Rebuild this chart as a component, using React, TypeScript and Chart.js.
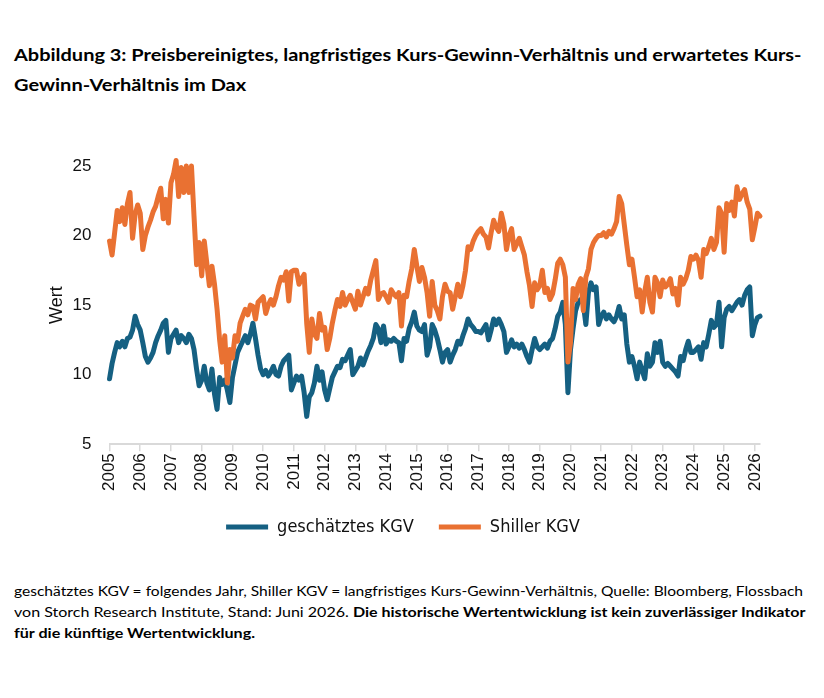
import React, { useEffect, useLayoutEffect, useRef } from "react";
import { Chart, registerables } from "chart.js";

Chart.register(...registerables);

// Years shown on the x axis; one value per month from Jan 2005 to Mar 2026
const years: number[] = [
  2005, 2006, 2007, 2008, 2009, 2010, 2011, 2012, 2013, 2014, 2015,
  2016, 2017, 2018, 2019, 2020, 2021, 2022, 2023, 2024, 2025, 2026,
];
const lastYearMonths = 3;

const months: string[] = [];
years.forEach((y) => {
  const n = y === 2026 ? lastYearMonths : 12;
  for (let m = 1; m <= n; m++) months.push(`${y}-${String(m).padStart(2, "0")}`);
});

// Geschätztes KGV (folgendes Jahr), monthly
const geschaetztesKgv: number[] = [
  9.7, 10.8, 11.6, 12.3, 12.0, 12.4, 12.0, 12.6, 12.7, 13.2, 14.2, 13.6,
  13.2, 12.3, 11.3, 10.9, 11.2, 11.6, 12.3, 12.8, 13.2, 13.7, 13.9, 11.6,
  12.6, 12.9, 13.2, 12.3, 12.8, 12.6, 12.3, 12.9, 12.6, 11.8, 10.4, 9.2,
  9.6, 10.6, 9.4, 8.9, 10.4, 8.6, 7.5, 9.8, 9.3, 9.6, 8.9, 8.0,
  9.8, 10.7, 11.6, 12.0, 12.4, 12.8, 12.3, 12.9, 13.7, 12.6, 11.4, 10.4,
  10.0, 10.3, 9.9, 10.2, 10.6, 10.0, 9.9, 10.6, 11.0, 11.2, 11.4, 8.9,
  9.4, 9.9, 9.6, 9.9, 8.7, 7.0, 8.4, 8.7, 9.4, 10.6, 9.6, 10.2,
  8.9, 8.2, 9.0, 9.8, 10.2, 10.6, 10.5, 11.1, 11.0, 11.4, 11.8, 10.0,
  10.3, 10.6, 11.2, 10.7, 11.2, 11.7, 12.1, 12.6, 13.6, 13.3, 12.3, 13.5,
  12.2, 12.5, 12.4, 12.6, 12.4, 12.3, 11.0, 12.6, 12.4, 13.3, 13.8, 14.5,
  13.5, 13.2, 13.1, 13.6, 11.4, 12.0, 13.6, 13.2, 12.6, 11.8, 10.9, 11.6,
  11.8, 10.9, 11.4, 11.8, 12.4, 12.2, 12.8, 13.3, 14.0, 13.6, 13.4, 13.1,
  13.1, 13.0, 13.3, 13.6, 12.5, 13.2, 14.0, 13.6, 14.0, 13.6, 13.1, 11.6,
  12.0, 12.5, 12.0, 12.2, 11.9, 12.2, 11.8, 11.3, 10.9, 11.8, 12.6, 12.0,
  11.8, 12.0, 12.2, 11.9, 12.4, 12.6, 13.3, 14.2, 14.5, 15.2, 13.6, 8.7,
  11.8, 13.3, 14.6, 15.2, 15.4, 15.1, 13.6, 15.9, 16.6, 16.1, 16.3, 13.6,
  14.2, 14.5, 14.0, 14.3, 14.0, 13.8, 14.2, 14.9, 14.0, 14.3, 12.2, 10.9,
  11.3, 10.6, 9.7, 10.9, 10.3, 9.7, 11.5, 10.6, 10.9, 12.3, 11.6, 12.4,
  10.9, 10.6, 10.8, 10.6, 10.4, 10.2, 9.9, 11.3, 11.0, 11.8, 12.4, 11.6,
  11.6, 11.8, 12.0, 11.1, 12.3, 12.0, 12.9, 13.9, 13.4, 13.6, 15.2, 12.0,
  14.1, 14.7, 14.9, 14.6, 14.9, 15.2, 15.4, 15.0, 15.7, 16.1, 16.3, 12.8,
  13.6, 14.1, 14.2,
];

// Shiller KGV (langfristiges, preisbereinigtes KGV), monthly
const shillerKgv: number[] = [
  19.6, 18.6, 20.2, 21.8, 21.0, 22.0, 20.8, 22.3, 23.1, 19.8, 21.5, 22.2,
  21.6, 19.0, 20.0, 20.6, 21.1, 21.7, 22.1, 22.8, 23.4, 21.2, 22.6, 20.9,
  23.8, 24.4, 25.4, 22.8, 24.9, 23.1, 25.0, 23.1, 25.0, 21.4, 17.9, 19.5,
  17.1, 19.6, 18.0, 16.4, 17.8, 16.5, 14.7, 12.5, 10.9, 12.8, 9.4, 11.8,
  11.2, 12.8, 12.4, 13.7, 14.2, 14.7, 14.3, 15.0, 14.9, 14.0, 15.2, 15.4,
  15.6, 14.4, 15.0, 15.4, 15.0, 15.6, 16.4, 17.0, 16.8, 17.4, 15.3, 17.4,
  17.5, 17.5, 16.5, 16.9, 17.2, 13.7, 11.6, 14.0, 12.9, 12.6, 14.4, 13.2,
  13.4, 11.8, 12.6, 13.7, 14.6, 15.4, 14.9, 15.9, 15.0, 15.4, 15.7, 15.2,
  14.7, 16.0, 15.0, 15.6, 16.2, 15.8, 16.8, 17.5, 18.2, 15.4, 15.8, 15.9,
  15.6, 15.2, 16.1, 15.8, 15.6, 15.9, 13.5, 15.7, 15.6, 16.7, 17.6, 19.0,
  17.8, 16.7, 17.7, 17.0, 15.9, 14.2, 16.7, 15.0, 14.6, 14.0, 15.6, 16.5,
  16.0, 15.9, 14.7, 15.6, 16.5, 15.6, 16.4, 17.5, 19.2, 19.0, 19.6, 20.0,
  20.3, 20.5, 20.1, 19.9, 19.1, 20.2, 21.1, 20.6, 20.3, 21.6, 20.8, 19.0,
  20.0, 20.5, 19.0, 19.4, 19.8, 19.2, 18.6, 17.4, 16.4, 14.9, 16.6, 16.1,
  16.4, 17.5, 15.9, 16.2, 15.4, 15.8, 16.8, 18.0, 18.3, 17.9, 17.0, 10.9,
  12.3, 16.2, 15.4, 16.5, 16.9, 14.6, 17.0, 17.6, 19.0, 19.5, 19.8, 20.0,
  20.0, 20.2, 19.9, 20.3, 20.1, 20.5, 21.0, 22.8, 22.3, 20.8, 19.3, 17.9,
  18.3, 17.0, 15.6, 16.1, 14.5, 16.0, 17.0, 15.2, 14.5, 17.0, 16.6, 15.6,
  16.8, 16.3, 16.5, 16.9, 15.8, 16.2, 15.0, 17.0, 16.5, 16.9, 17.5, 18.5,
  18.3, 18.6, 18.2, 17.0, 19.0, 18.7, 19.2, 19.8, 19.0, 19.5, 22.0, 21.6,
  18.8, 22.3, 21.8, 22.4, 21.4, 23.5, 22.6, 23.0, 23.3, 22.4, 21.9, 19.7,
  20.6, 21.6, 21.4,
];

const yTicks = { min: 5, max: 25, step: 5 };

const BLUE = "#156082";
const ORANGE = "#E97132";
const AXIS_FONT = "'Liberation Sans', Arial, sans-serif";
const LEGEND_FONT = "'Liberation Sans Narrow', 'DejaVu Sans Condensed', 'Liberation Sans', sans-serif";
const TEXT_FONT = "Lato, 'Open Sans', sans-serif";

// A single line of text squeezed/stretched horizontally to a fixed width
function FitLine(props: {
  top: number;
  width: number;
  size: number;
  children: React.ReactNode;
}) {
  const ref = useRef<HTMLDivElement>(null);
  useLayoutEffect(() => {
    const fit = () => {
      const el = ref.current;
      if (!el) return;
      el.style.transform = "none";
      const w = el.offsetWidth;
      if (w > 0) el.style.transform = `scaleX(${props.width / w})`;
    };
    fit();
    if ((document as any).fonts?.ready) (document as any).fonts.ready.then(fit);
  }, [props.width]);
  return (
    <div
      ref={ref}
      style={{
        position: "absolute",
        left: 14,
        top: props.top,
        whiteSpace: "nowrap",
        transformOrigin: "0 0",
        fontFamily: TEXT_FONT,
        fontSize: props.size,
        lineHeight: "22px",
        color: "#000",
      }}
    >
      {props.children}
    </div>
  );
}

function KgvChart() {
  const canvasRef = useRef<HTMLCanvasElement>(null);

  useEffect(() => {
    const canvas = canvasRef.current;
    if (!canvas) return;
    const chart = new Chart(canvas, {
      type: "line",
      data: {
        labels: months,
        datasets: [
          {
            label: "geschätztes KGV",
            data: geschaetztesKgv,
            borderColor: BLUE,
            backgroundColor: BLUE,
            borderWidth: 5,
            pointRadius: 0,
            pointStyle: "line",
            borderCapStyle: "round",
            borderJoinStyle: "round",
            tension: 0,
            clip: false,
            order: 2,
          },
          {
            label: "Shiller KGV",
            data: shillerKgv,
            borderColor: ORANGE,
            backgroundColor: ORANGE,
            borderWidth: 5,
            pointRadius: 0,
            pointStyle: "line",
            borderCapStyle: "round",
            borderJoinStyle: "round",
            tension: 0,
            clip: false,
            order: 1,
          },
        ],
      },
      options: {
        animation: false,
        responsive: false,
        devicePixelRatio: 1,
        layout: { padding: { left: 46, right: 46, top: 26, bottom: 0 } },
        scales: {
          x: {
            type: "category",
            offset: false,
            grid: {
              drawOnChartArea: false,
              drawTicks: true,
              tickLength: 7,
              color: "#d9d9d9",
              lineWidth: 1.5,
            },
            border: { display: true, color: "#d9d9d9", width: 2 },
            ticks: {
              autoSkip: false,
              maxRotation: 90,
              minRotation: 90,
              padding: 2,
              color: "#111",
              font: { family: AXIS_FONT, size: 17 },
              callback: (_v: any, i: number) => {
                const lab = months[i];
                return lab.endsWith("-01") ? lab.slice(0, 4) : null;
              },
            },
          },
          y: {
            min: yTicks.min,
            max: yTicks.max,
            grid: { display: false, drawTicks: true, tickLength: 18 },
            border: { display: false },
            ticks: {
              stepSize: yTicks.step,
              padding: 0,
              color: "#111",
              font: { family: AXIS_FONT, size: 17 },
            },
            title: {
              display: true,
              text: "Wert",
              color: "#111",
              font: { family: AXIS_FONT, size: 18 },
              padding: { top: 0, bottom: 5 },
            },
          },
        },
        plugins: {
          legend: {
            position: "bottom",
            labels: {
              usePointStyle: true,
              pointStyleWidth: 42,
              padding: 25,
              color: "#111",
              font: { family: LEGEND_FONT, size: 18 },
              sort: (a: any, b: any) => a.datasetIndex - b.datasetIndex,
            },
          },
          tooltip: { enabled: false },
        },
      } as any,
    });
    return () => chart.destroy();
  }, []);

  return (
    <canvas
      ref={canvasRef}
      width={806}
      height={406}
      style={{ position: "absolute", left: 0, top: 140, width: 806, height: 406 }}
    />
  );
}

export default function App() {
  return (
    <div
      style={{
        position: "absolute",
        left: 0,
        top: 0,
        width: 824,
        height: 698,
        background: "#fff",
        overflow: "hidden",
      }}
    >
      <FitLine top={44} width={788} size={17}>
        <b>
          Abbildung 3: Preisbereinigtes, langfristiges Kurs-Gewinn-Verhältnis und erwartetes Kurs-
        </b>
      </FitLine>
      <FitLine top={74} width={232} size={17}>
        <b>Gewinn-Verhältnis im Dax</b>
      </FitLine>
      <KgvChart />
      <FitLine top={580} width={789} size={13.5}>
        geschätztes KGV = folgendes Jahr, Shiller KGV = langfristiges Kurs-Gewinn-Verhältnis, Quelle: Bloomberg, Flossbach
      </FitLine>
      <FitLine top={601} width={792} size={13.5}>
        von Storch Research Institute, Stand: Juni 2026.{" "}
        <b>Die historische Wertentwicklung ist kein zuverlässiger Indikator</b>
      </FitLine>
      <FitLine top={622} width={241} size={13.5}>
        <b>für die künftige Wertentwicklung.</b>
      </FitLine>
    </div>
  );
}
